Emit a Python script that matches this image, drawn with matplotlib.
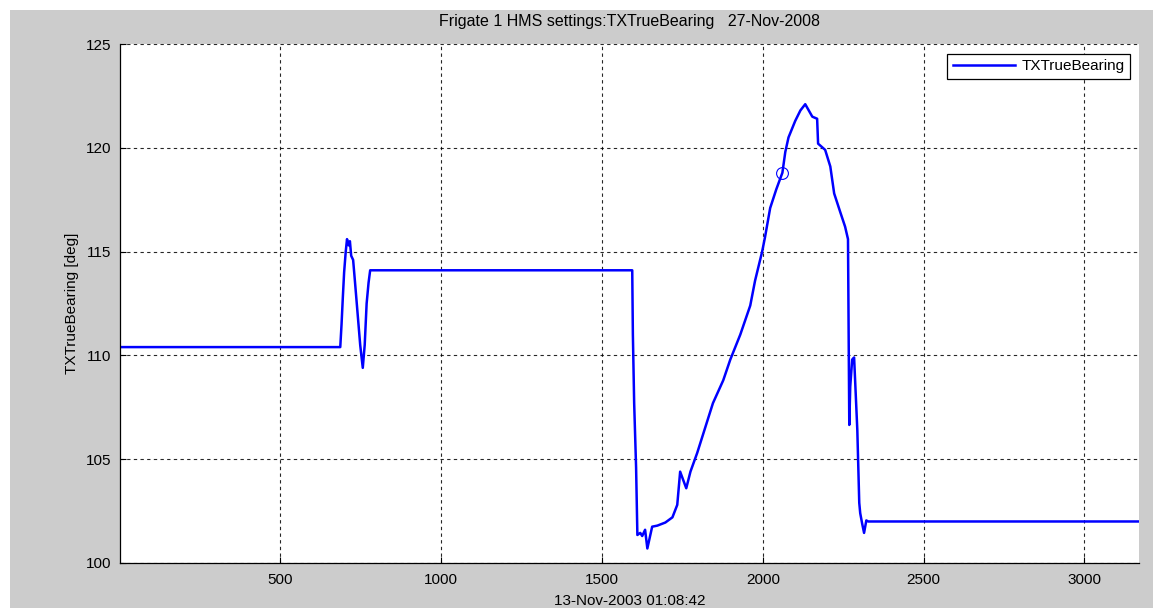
import matplotlib
matplotlib.use("Agg")
import matplotlib.pyplot as plt
from matplotlib.patches import Rectangle

# bearing trace (sample index vs. degrees)
sample = [1, 686, 690, 694, 698, 703, 707, 712, 716, 720, 726, 732, 740, 748, 756,
          762, 768, 774, 779, 1594, 1596, 1600, 1606, 1610, 1619, 1625, 1634, 1641,
          1656, 1672, 1697, 1719, 1734, 1743, 1762, 1775, 1796, 1845, 1877, 1899,
          1930, 1961, 1976, 1998, 2007, 2023, 2042, 2061, 2070, 2080, 2101, 2117,
          2132, 2154, 2169, 2172, 2194, 2210, 2222, 2241, 2256, 2265, 2267, 2269,
          2272, 2278, 2284, 2294, 2300, 2303, 2309, 2315, 2322, 2328, 2334, 3170]
bearing = [110.4, 110.4, 111.5, 112.8, 114.0, 115.0, 115.6, 115.3, 115.5, 114.8,
           114.6, 113.5, 112.0, 110.5, 109.4, 110.5, 112.5, 113.5, 114.1, 114.1,
           111.0, 107.7, 104.6, 101.35, 101.45, 101.3, 101.6, 100.7, 101.75, 101.8,
           101.95, 102.2, 102.8, 104.4, 103.6, 104.4, 105.3, 107.7, 108.8, 109.8,
           111.0, 112.4, 113.6, 115.0, 115.7, 117.1, 118.0, 118.8, 119.8, 120.5,
           121.3, 121.8, 122.1, 121.5, 121.4, 120.2, 119.9, 119.1, 117.8, 116.9,
           116.2, 115.6, 111.1, 106.65, 108.5, 109.8, 109.9, 106.4, 102.9, 102.4,
           101.9, 101.45, 102.05, 102.0, 102.0, 102.0]

# highlighted point on the trace
mark_x = [2061]
mark_y = [118.8]

x_ticks = [500, 1000, 1500, 2000, 2500, 3000]
y_ticks = [100, 105, 110, 115, 120, 125]

plt.rcParams["font.family"] = ["Liberation Sans", "DejaVu Sans"]
plt.rcParams["font.size"] = 11

fig = plt.figure(figsize=(11.53, 6.08), dpi=100, facecolor="white")
# grey window background with a thin white margin on the top and left
fig.patches.append(Rectangle((10 / 1153, 0), 1, 1 - 10 / 608, transform=fig.transFigure,
                             facecolor="#cccccc", edgecolor="none", zorder=-10))

ax = fig.add_axes([120 / 1153, 1 - 563 / 608, (1139 - 120) / 1153, (563 - 44) / 608])
ax.set_facecolor("white")
ax.plot(sample, bearing, color="#0000ff", linewidth=1.8, label="TXTrueBearing")
ax.plot(mark_x, mark_y, linestyle="none", marker="o", markersize=8.5,
        markerfacecolor="none", markeredgecolor="#0000ff", markeredgewidth=0.8)

ax.set_xlim(1, 3170)
ax.set_ylim(100, 125)
ax.set_xticks(x_ticks)
ax.set_yticks(y_ticks)
ax.tick_params(direction="in", length=4, width=0.8, colors="black", labelsize=11)
ax.tick_params(axis="x", pad=7)
ax.tick_params(axis="y", pad=6)
ax.grid(True, color="black", linestyle=(0, (3, 3)), linewidth=0.8, alpha=0.85)
for side in ["top", "right"]:
    ax.spines[side].set_visible(False)
for side in ["left", "bottom"]:
    ax.spines[side].set_linewidth(0.9)

ax.set_title("Frigate 1 HMS settings:TXTrueBearing   27-Nov-2008", fontsize=11.5, pad=13)
ax.set_xlabel("13-Nov-2003 01:08:42", fontsize=11, labelpad=5)
ax.set_ylabel("TXTrueBearing [deg]", fontsize=11, labelpad=5)

leg = ax.legend(loc="upper right", bbox_to_anchor=(1130 / 1153, 1 - 54 / 608),
                bbox_transform=fig.transFigure, borderaxespad=0, fancybox=False,
                framealpha=1, edgecolor="black", handlelength=4.1, fontsize=11,
                borderpad=0.35, handletextpad=0.4, handleheight=0.6)
leg.get_frame().set_linewidth(0.9)

fig.savefig("out.png", dpi=100, facecolor=fig.get_facecolor())
